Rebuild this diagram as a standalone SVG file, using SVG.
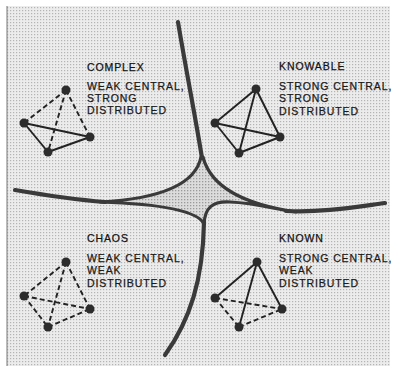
<svg xmlns="http://www.w3.org/2000/svg" width="393" height="369" viewBox="0 0 393 369">
<defs>
<pattern id="dots" width="3" height="3" patternUnits="userSpaceOnUse">
<rect width="3" height="3" fill="#ececec"/>
<rect x="1" y="1" width="1.2" height="1.2" fill="#b4b4b4"/>
</pattern>
<pattern id="dots2" width="3" height="3" patternUnits="userSpaceOnUse">
<rect width="3" height="3" fill="#dcdcdc"/>
<rect x="1" y="1" width="1.3" height="1.3" fill="#9a9a9a"/>
</pattern>
<style>
.t{font-family:"Liberation Sans",Arial,sans-serif;font-size:10.5px;letter-spacing:0.9px;fill:#1a1a1a;stroke:#1a1a1a;stroke-width:0.25}
.h{fill:#0e0e0e}
.tail{fill:none;stroke:#3a3a3a;stroke-width:4.2;stroke-linecap:round}
.star{fill:url(#dots2);stroke:#3a3a3a;stroke-width:3.2;stroke-linejoin:round}
.e{stroke:#222;stroke-width:1.9;fill:none}
.d{stroke-dasharray:5,3}
.n{fill:#2c2c2c}
</style>
</defs>
<rect x="7" y="6" width="383" height="360" fill="url(#dots)"/>
<line x1="7" y1="6" x2="7" y2="366" stroke="#777" stroke-width="1"/>

<g id="connectors">
<path class="star" d="M201,157 Q193,197 100,202 Q195,205 204,224 C205,208 212,201 230,202 C255,203 275,209 296,212 Q214,200 203,157 Z"/>
<path class="tail" d="M178,22 C186,70 196,120 202,158"/>
<path class="tail" d="M15,190 C50,196 80,200 105,202"/>
<path class="tail" d="M286,211 C320,213 355,207 385,203"/>
<path class="tail" d="M165,355 C190,320 203,280 204,222"/>
</g>

<g id="complex">
<line class="e d" x1="66" y1="90" x2="24" y2="123"/>
<line class="e d" x1="66" y1="90" x2="90" y2="137"/>
<line class="e d" x1="66" y1="90" x2="48" y2="152"/>
<line class="e" x1="24" y1="123" x2="90" y2="137"/>
<line class="e" x1="24" y1="123" x2="48" y2="152"/>
<line class="e" x1="48" y1="152" x2="90" y2="137"/>
<circle class="n" cx="66" cy="90" r="4.5"/>
<circle class="n" cx="24" cy="123" r="4.5"/>
<circle class="n" cx="90" cy="137" r="4.5"/>
<circle class="n" cx="48" cy="152" r="4.5"/>
<text class="t h" x="87" y="71">COMPLEX</text>
<text class="t" x="87" y="90">WEAK CENTRAL,</text>
<text class="t" x="87" y="102">STRONG</text>
<text class="t" x="87" y="114">DISTRIBUTED</text>
</g>

<g id="knowable">
<line class="e" x1="256" y1="89" x2="215" y2="123"/>
<line class="e" x1="256" y1="89" x2="280" y2="137"/>
<line class="e" x1="256" y1="89" x2="239" y2="153"/>
<line class="e" x1="215" y1="123" x2="280" y2="137"/>
<line class="e" x1="215" y1="123" x2="239" y2="153"/>
<line class="e" x1="239" y1="153" x2="280" y2="137"/>
<circle class="n" cx="256" cy="89" r="4.5"/>
<circle class="n" cx="215" cy="123" r="4.5"/>
<circle class="n" cx="280" cy="137" r="4.5"/>
<circle class="n" cx="239" cy="153" r="4.5"/>
<text class="t h" x="279" y="70">KNOWABLE</text>
<text class="t" x="279" y="90">STRONG CENTRAL,</text>
<text class="t" x="279" y="102">STRONG</text>
<text class="t" x="279" y="115">DISTRIBUTED</text>
</g>

<g id="chaos">
<line class="e d" x1="66" y1="262" x2="24" y2="296"/>
<line class="e d" x1="66" y1="262" x2="90" y2="309"/>
<line class="e d" x1="66" y1="262" x2="48" y2="327"/>
<line class="e d" x1="24" y1="296" x2="90" y2="309"/>
<line class="e d" x1="24" y1="296" x2="48" y2="327"/>
<line class="e d" x1="48" y1="327" x2="90" y2="309"/>
<circle class="n" cx="66" cy="262" r="4.5"/>
<circle class="n" cx="24" cy="296" r="4.5"/>
<circle class="n" cx="90" cy="309" r="4.5"/>
<circle class="n" cx="48" cy="327" r="4.5"/>
<text class="t h" x="87" y="242">CHAOS</text>
<text class="t" x="87" y="262">WEAK CENTRAL,</text>
<text class="t" x="87" y="274">WEAK</text>
<text class="t" x="87" y="287">DISTRIBUTED</text>
</g>

<g id="known">
<line class="e" x1="257" y1="262" x2="215" y2="298"/>
<line class="e" x1="257" y1="262" x2="282" y2="309"/>
<line class="e" x1="257" y1="262" x2="239" y2="327"/>
<line class="e d" x1="215" y1="298" x2="282" y2="309"/>
<line class="e d" x1="215" y1="298" x2="239" y2="327"/>
<line class="e d" x1="239" y1="327" x2="282" y2="309"/>
<circle class="n" cx="257" cy="262" r="4.5"/>
<circle class="n" cx="215" cy="298" r="4.5"/>
<circle class="n" cx="282" cy="309" r="4.5"/>
<circle class="n" cx="239" cy="327" r="4.5"/>
<text class="t h" x="279" y="242">KNOWN</text>
<text class="t" x="279" y="262">STRONG CENTRAL,</text>
<text class="t" x="279" y="274">WEAK</text>
<text class="t" x="279" y="287">DISTRIBUTED</text>
</g>
</svg>
